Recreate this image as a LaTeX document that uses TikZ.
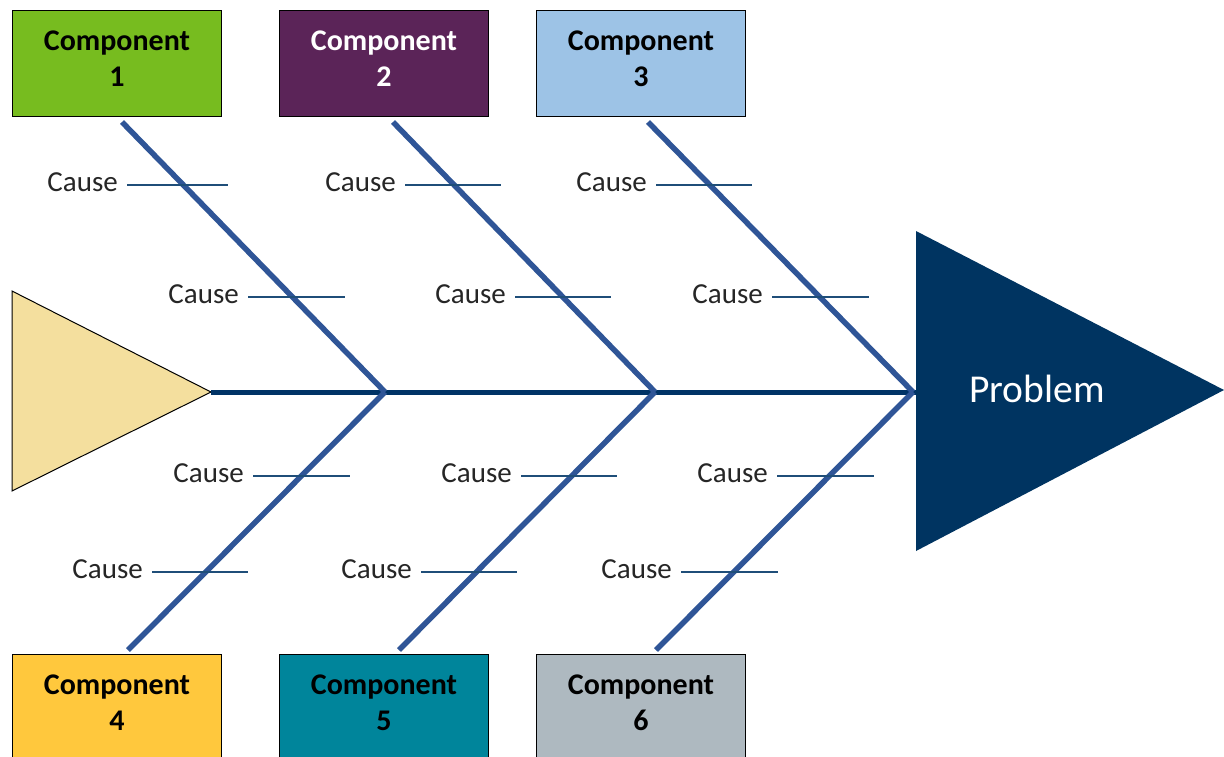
\documentclass[tikz,border=0pt]{standalone}
\usepackage{fontspec}
\setmainfont{Carlito}
\begin{document}
\begin{tikzpicture}[x=1pt,y=-1pt,
  comp/.style={draw=black,line width=1pt,minimum width=209pt,minimum height=106pt,inner sep=0pt,anchor=north west},
  comptext/.style={font=\fontsize{30}{36}\selectfont\bfseries,align=center,inner sep=0pt},
  bone/.style={draw=bonecol,line width=5.5pt},
  spine/.style={draw=spinecol,line width=5pt},
  causeline/.style={draw=causecol,line width=1.8pt},
  causelbl/.style={font=\fontsize{29}{34}\selectfont,text=black!85,inner sep=0pt,anchor=east}]
\definecolor{bonecol}{HTML}{2F5597}
\definecolor{spinecol}{HTML}{003366}
\definecolor{causecol}{HTML}{1F4E79}
\definecolor{c1}{HTML}{77BC1F}
\definecolor{c2}{HTML}{5B2458}
\definecolor{c3}{HTML}{9DC3E6}
\definecolor{c4}{HTML}{FFC83D}
\definecolor{c5}{HTML}{00859B}
\definecolor{c6}{HTML}{AEB9C0}
\definecolor{tailcol}{HTML}{F4DF9E}
\definecolor{headcol}{HTML}{003461}
\useasboundingbox (0,0) rectangle (1224,756);
\fill[white] (0,0) rectangle (1224,756);

% tail and head
\draw[fill=tailcol,draw=black,line width=1pt] (12,291) -- (211,392) -- (12,491) -- cycle;
\coordinate (tail) at (211,392);
\fill[headcol] (916,231) -- (1224,390) -- (916,551) -- cycle;
\coordinate (headL) at (916,392);
\node[font=\fontsize{39.5}{46}\selectfont,text=white,inner sep=0pt] (prob) at (1037,389) {Problem};

% junctions
\coordinate (J1) at (385,392);
\coordinate (J2) at (655,392);
\coordinate (J3) at (913,392);

% spine
\draw[spine] (tail) -- (headL);

% boxes
\node[comp,fill=c1] (b1) at (12,10) {};
\node[comp,fill=c2] (b2) at (279,10) {};
\node[comp,fill=c3] (b3) at (536,10) {};
\node[comp,fill=c4] (b4) at (12,654) {};
\node[comp,fill=c5] (b5) at (279,654) {};
\node[comp,fill=c6] (b6) at (536,654) {};
\node[comptext] (x1) at ([yshift=-49pt]b1.north) {Component\\1};
\node[comptext,text=white] (x2) at ([yshift=-49pt]b2.north) {Component\\2};
\node[comptext] (x3) at ([yshift=-49pt]b3.north) {Component\\3};
\node[comptext] (x4) at ([yshift=-49pt]b4.north) {Component\\4};
\node[comptext] (x5) at ([yshift=-49pt]b5.north) {Component\\5};
\node[comptext] (x6) at ([yshift=-49pt]b6.north) {Component\\6};

% bone ends
\coordinate (t1) at (122,122);
\coordinate (t2) at (393,122);
\coordinate (t3) at (648,122);
\coordinate (u4) at (128,650);
\coordinate (u5) at (399,650);
\coordinate (u6) at (656,650);

\draw[bone] (t1) -- (J1);
\draw[bone] (t2) -- (J2);
\draw[bone] (t3) -- (J3);
\draw[bone] (J1) -- (u4);
\draw[bone] (J2) -- (u5);
\draw[bone] (J3) -- (u6);

% causes
\foreach \n/\xa/\xb/\y in {a/127/228/185, b/248/345/297, c/405/501/185, d/515/611/297, e/656/752/185, f/772/869/297,
  g/253/350/476, h/521/617/476, i/777/874/476, j/152/248/572, k/421/517/572, l/681/778/572}{
  \coordinate (s\n) at (\xa,\y);
  \coordinate (e\n) at (\xb,\y);
  \draw[causeline] (s\n) -- (e\n);
  \node[causelbl] (L\n) at ([xshift=-9pt,yshift=3pt]s\n) {Cause};
}
\end{tikzpicture}
\end{document}
